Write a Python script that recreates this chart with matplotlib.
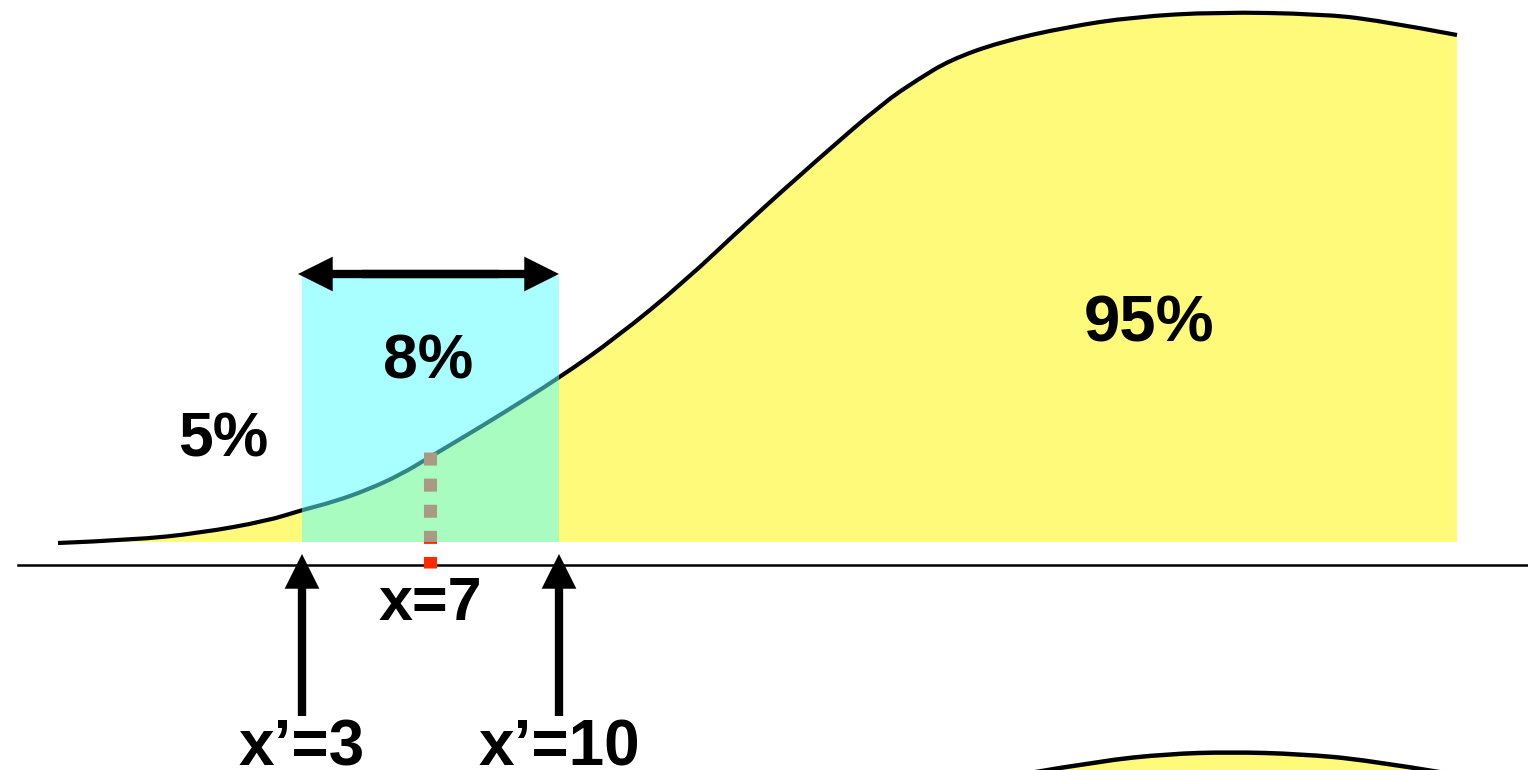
#!/usr/bin/env python3

import matplotlib

matplotlib.use("Agg")

import matplotlib.pyplot as plt
from matplotlib.patches import FancyArrowPatch, PathPatch, Rectangle
from matplotlib.path import Path

# curve, in picture units (y grows downward)
curve_x = [58, 133, 200, 267, 302, 333, 367, 400, 430, 467, 500, 559, 617,
           683, 750, 817, 883, 917, 950, 1000, 1067, 1133, 1217, 1320, 1377, 1457]
curve_y = [543, 540, 533, 521, 510, 502, 490, 475, 457, 435, 415, 378, 337,
           283, 220, 160, 103, 80, 60, 42, 27, 17, 12, 14, 20, 35]

# second shape peeking in at the bottom edge
lower_x = [1030, 1100, 1167, 1230, 1300, 1367, 1445]
lower_y = [773, 761, 754, 752, 754, 760, 773]

baseline_y = 542
interval = [302, 559]          # x'=3 .. x'=10
point_x = 430                  # x=7
interval_labels = ["x\u2019=3", "x\u2019=10"]
point_label = "x=7"
share_labels = ["5%", "8%", "95%"]

YELLOW = "#fffa7a"
CYAN = "#5dffff"
RED = "#ff2a00"

plt.rcParams["font.family"] = ["Liberation Sans", "DejaVu Sans"]


def smooth_path(xs, ys, closing=None):
    # quadratic b-spline through the traced points, drawn by matplotlib's path
    pts = list(zip(xs, ys))
    verts = [pts[0]]
    codes = [Path.MOVETO]
    for i in range(1, len(pts) - 1):
        nxt = pts[i + 1] if i == len(pts) - 2 else (
            (pts[i][0] + pts[i + 1][0]) / 2, (pts[i][1] + pts[i + 1][1]) / 2)
        verts += [pts[i], nxt]
        codes += [Path.CURVE3, Path.CURVE3]
    if closing is not None:
        verts += [(xs[-1], closing), (xs[0], closing), pts[0]]
        codes += [Path.LINETO, Path.LINETO, Path.CLOSEPOLY]
    return Path(verts, codes)


def main() -> None:
    fig = plt.figure(figsize=(15.28, 7.70), dpi=100)
    ax = fig.add_axes([0, 0, 1, 1])
    ax.set_xlim(0, 1528)
    ax.set_ylim(770, 0)
    ax.axis("off")

    # main curve with the yellow area below it
    ax.add_patch(PathPatch(smooth_path(curve_x, curve_y, baseline_y),
                           facecolor=YELLOW, lw=0, zorder=1))
    ax.add_patch(PathPatch(smooth_path(curve_x, curve_y), facecolor="none",
                           edgecolor="black", lw=3.0, capstyle="butt", zorder=2))

    ax.add_patch(PathPatch(smooth_path(lower_x, lower_y, 780),
                           facecolor=YELLOW, lw=0, zorder=1))
    ax.add_patch(PathPatch(smooth_path(lower_x, lower_y), facecolor="none",
                           edgecolor="black", lw=3.2, zorder=2))

    # x axis
    ax.plot([18, 1528], [565, 565], color="black", lw=1.8, zorder=2)

    # dotted marker for x=7, sits under the translucent box
    ax.plot([point_x, point_x], [452, 568], color=RED, lw=9.4,
            linestyle=(0, (1, 1)), dash_capstyle="butt", zorder=3)

    # the interval box
    left, right = interval
    ax.add_patch(Rectangle((left, 276), right - left, baseline_y - 276,
                           facecolor=CYAN, alpha=0.53, lw=0, zorder=4))

    # width arrow on top of the box
    style = "simple,head_length=1.0,head_width=1.0,tail_width=0.24"
    for start, end in ((right - 60, left - 4), (left + 60, right)):
        ax.add_patch(FancyArrowPatch((start, 274), (end, 274), arrowstyle=style,
                                     mutation_scale=25, color="black", lw=0,
                                     shrinkA=0, shrinkB=0, zorder=5))

    # arrows pointing up at x'=3 and x'=10
    for x in interval:
        ax.add_patch(FancyArrowPatch((x, 716), (x, 554), arrowstyle=style,
                                     mutation_scale=25, color="black", lw=0,
                                     shrinkA=0, shrinkB=0, zorder=5))

    text_kw = dict(ha="center", fontweight="bold", color="black", zorder=6)
    for label, x in zip(interval_labels, interval):
        ax.text(x, 766, label, va="baseline", fontsize=46, **text_kw)
    ax.text(point_x, 605, point_label, va="center", fontsize=44, **text_kw)

    sizes = [45, 45, 47]
    spots = [(223, 440), (428, 362), (1149, 324)]
    for label, (x, y), size in zip(share_labels, spots, sizes):
        ax.text(x, y, label, va="center", fontsize=size, **text_kw)

    fig.savefig("out.png", dpi=100, facecolor="white")
    plt.close(fig)


if __name__ == "__main__":
    main()
